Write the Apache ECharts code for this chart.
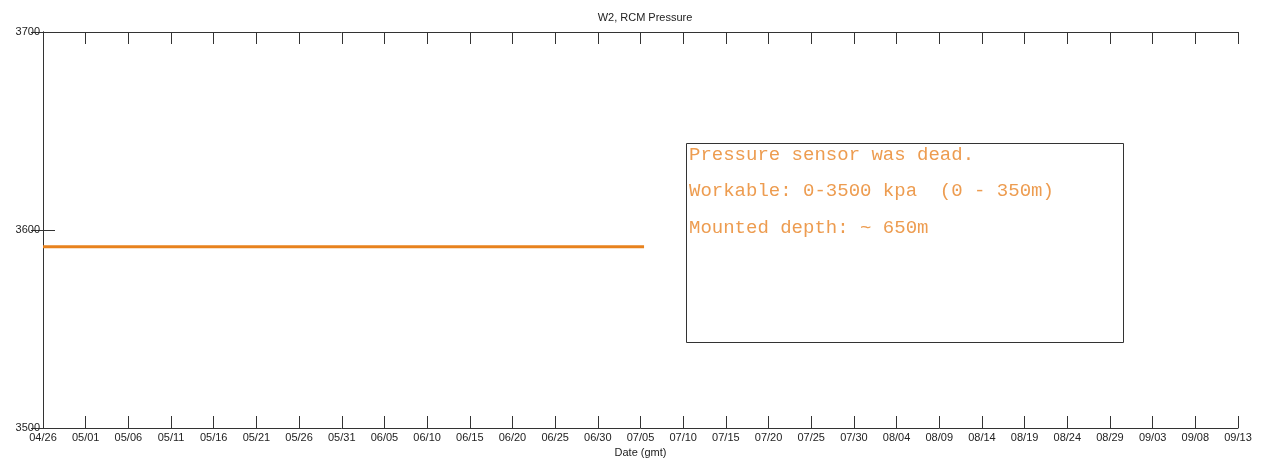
<!DOCTYPE html>
<html>
<head>
<meta charset="utf-8">
<script src="https://cdn.jsdelivr.net/npm/echarts@6/dist/echarts.min.js"></script>
<style>html,body{margin:0;padding:0;background:#fff;}#c{width:1267px;height:461px;}</style>
</head>
<body>
<div id="c"></div>
<script>
// ---- data ----
var baseDate = '2000-04-26';
var axisEndDate = '2000-09-13';
var tickStepDays = 5;
var yTicks = [3500, 3600, 3700];
var sampleTimes = ['2000-04-26T00:00', '2000-05-06T00:00', '2000-05-16T00:00', '2000-05-26T00:00',
  '2000-06-05T00:00', '2000-06-15T00:00', '2000-06-25T00:00', '2000-07-05T10:00'];
var pressure = [3591.5, 3591.5, 3591.5, 3591.5, 3591.5, 3591.5, 3591.5, 3591.5];
var noteLines = ['Pressure sensor was dead.', 'Workable: 0-3500 kpa  (0 - 350m)', 'Mounted depth: ~ 650m'];

// ---- build ----
var DAY = 86400000;
var t0 = Date.parse(baseDate + 'T00:00:00Z');
function dayOffset(s) { return (Date.parse(s + 'Z') - t0) / DAY; }
var xMax = (Date.parse(axisEndDate + 'T00:00:00Z') - t0) / DAY;
var seriesData = sampleTimes.map(function (s, i) { return [dayOffset(s), pressure[i]]; });
function fmt(v) {
  var d = new Date(t0 + v * DAY);
  var m = d.getUTCMonth() + 1, dd = d.getUTCDate();
  return (m < 10 ? '0' : '') + m + '/' + (dd < 10 ? '0' : '') + dd;
}
var FONT = 'Liberation Sans, Arial, sans-serif';
var axisColor = '#333';
var chart = echarts.init(document.getElementById('c'));
var gridL = 43, gridT = 32, gridR = 1267 - 1238, gridB = 461 - 428;
var option = {
  animation: false,
  backgroundColor: '#fff',
  title: {
    text: 'W2, RCM Pressure', left: 640, top: 7, textAlign: 'center',
    textStyle: { fontFamily: FONT, fontSize: 11, fontWeight: 'normal', color: '#222' }
  },
  grid: { left: gridL, right: gridR, top: gridT, bottom: gridB, containLabel: false, outerBoundsMode: 'none' },
  xAxis: [{
    type: 'value', min: 0, max: xMax, interval: tickStepDays,
    name: 'Date (gmt)', nameLocation: 'middle', nameGap: 18,
    nameTextStyle: { fontFamily: FONT, fontSize: 11, color: '#222' },
    axisLine: { lineStyle: { color: axisColor, width: 1 } },
    axisTick: { inside: true, length: 12, lineStyle: { color: axisColor } },
    axisLabel: { formatter: fmt, fontFamily: FONT, fontSize: 11, color: '#222', margin: 4 },
    splitLine: { show: false }
  }, {
    type: 'value', min: 0, max: xMax, interval: tickStepDays, position: 'top',
    axisLine: { lineStyle: { color: axisColor, width: 1 } },
    axisTick: { inside: true, length: 12, lineStyle: { color: axisColor } },
    axisLabel: { show: false }, splitLine: { show: false }
  }],
  yAxis: [{
    type: 'value', min: yTicks[0], max: yTicks[yTicks.length - 1], interval: 100,
    axisLine: { show: true, lineStyle: { color: axisColor, width: 1 } },
    axisTick: { show: true, inside: true, length: 12, lineStyle: { color: axisColor } },
    axisLabel: { formatter: function (v) { return String(v); }, fontFamily: FONT, fontSize: 11, color: '#222', margin: 3 },
    splitLine: { show: false }
  }, {
    type: 'value', min: yTicks[0], max: yTicks[yTicks.length - 1], interval: 100, position: 'right',
    axisLine: { show: true, lineStyle: { color: axisColor, width: 1 } },
    axisTick: { show: true, inside: true, length: 12, lineStyle: { color: axisColor } },
    axisLabel: { show: false }, splitLine: { show: false }
  }],
  series: [{
    type: 'line', data: seriesData, showSymbol: false, symbol: 'none',
    lineStyle: { color: '#e8821e', width: 3 }, itemStyle: { color: '#e8821e' }
  }],
  graphic: [{
    type: 'rect', left: 684, top: 141, shape: { width: 437, height: 199 },
    style: { fill: 'none', stroke: '#333', lineWidth: 1 }
  }].concat(noteLines.map(function (t, i) {
    return {
      type: 'text', left: 689, top: 145 + i * 36.5,
      style: { text: t, fill: '#ed9c50', font: '19px "Liberation Mono", "Courier New", monospace' }
    };
  }))
};
chart.setOption(option);
</script>
</body>
</html>
